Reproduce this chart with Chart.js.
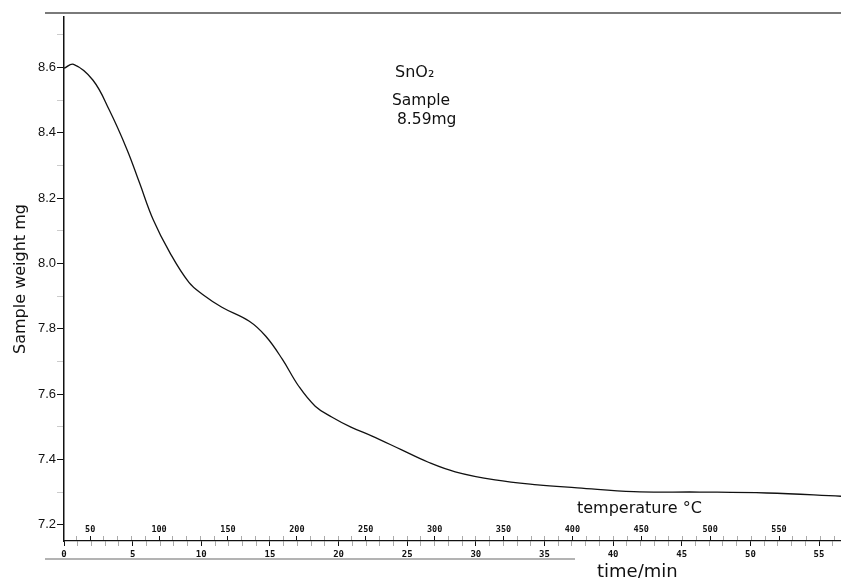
<!DOCTYPE html>
<html>
<head>
<meta charset="utf-8">
<title>SnO2 sample weight</title>
<script src="https://cdn.jsdelivr.net/npm/chart.js@4.4.1/dist/chart.umd.min.js"></script>
<style>
  body { margin: 0; background: #fff; }
  canvas { display: block; }
</style>
</head>
<body>
<canvas id="tgChart" width="841" height="578"></canvas>
<script>
var timeMin = [0, 0.7, 2.1, 3.3, 4.6, 5.5, 6.5, 7.7, 9.1, 10.1, 11.5, 13.5, 14.7, 15.9, 17.1, 18.3,
  19.5, 20.9, 22.4, 24.6, 26.5, 28.5, 31.4, 34.5, 37.4, 41.5, 46.3, 51.2, 56.6];
var weightMg = [8.598, 8.610, 8.562, 8.470, 8.348, 8.247, 8.134, 8.034, 7.942, 7.905, 7.866, 7.823, 7.777, 7.707, 7.624, 7.563,
  7.530, 7.499, 7.472, 7.429, 7.392, 7.362, 7.337, 7.322, 7.313, 7.301, 7.300, 7.297, 7.287];

var timeRange = [0, 56.6];
var tempRange = [31, 595];
var weightRange = [7.15, 8.755];
var noteLines = ["SnO\u2082", "Sample", "8.59mg"];

var points = timeMin.map(function (t, i) {
  return { x: t, y: weightMg[i] };
});

var data = {
  datasets: [{
    label: "Sample weight",
    data: points,
    borderColor: "#111",
    borderWidth: 1.3,
    pointRadius: 0,
    tension: 0.4,
    fill: false
  }]
};

var tickFont = { family: "'DejaVu Sans Mono'", size: 9, weight: "bold" };

// free text and the sheet border lines
var paperText = {
  id: "paperText",
  afterDraw: function (chart) {
    var ctx = chart.ctx;
    var area = chart.chartArea;
    ctx.save();
    ctx.strokeStyle = "#7a7a7a";
    ctx.lineWidth = 2;
    ctx.beginPath();
    ctx.moveTo(45, area.top - 4);
    ctx.lineTo(chart.width, area.top - 4);
    ctx.stroke();
    ctx.strokeStyle = "#9a9a9a";
    ctx.lineWidth = 1.5;
    ctx.beginPath();
    ctx.moveTo(45, area.bottom + 18);
    ctx.lineTo(575, area.bottom + 18);
    ctx.stroke();

    ctx.fillStyle = "#111";
    ctx.textBaseline = "alphabetic";
    ctx.font = "16px 'DejaVu Sans'";
    ctx.fillText(noteLines[0], 395, 77);
    ctx.font = "15.5px 'DejaVu Sans'";
    ctx.fillText(noteLines[1], 392, 105);
    ctx.fillText(noteLines[2], 397, 124);
    ctx.font = "16px 'DejaVu Sans'";
    ctx.fillText("temperature \u00b0C", 577, 513);
    ctx.font = "18px 'DejaVu Sans'";
    ctx.fillText("time/min", 597, 577);
    ctx.restore();
  }
};

var config = {
  type: "line",
  data: data,
  plugins: [paperText],
  options: {
    responsive: false,
    animation: false,
    layout: { padding: { top: 17, right: 0, left: 0, bottom: 0 } },
    plugins: {
      legend: { display: false },
      tooltip: { enabled: false }
    },
    scales: {
      x: {
        type: "linear",
        position: "bottom",
        min: timeRange[0],
        max: timeRange[1],
        afterFit: function (scale) { scale.height = 37; },
        border: { color: "#111", width: 1.3 },
        grid: {
          drawOnChartArea: false,
          tickLength: 5,
          tickColor: function (c) { return c.tick && c.tick.value % 5 === 0 ? "#111" : "#aaa"; }
        },
        ticks: {
          stepSize: 1,
          includeBounds: false,
          autoSkip: false,
          maxRotation: 0,
          padding: 3,
          color: "#111",
          font: tickFont,
          callback: function (v) { return v % 5 === 0 ? String(v) : ""; }
        }
      },
      temp: {
        type: "linear",
        axis: "x",
        position: { y: weightRange[0] },
        min: tempRange[0],
        max: tempRange[1],
        border: { display: false },
        grid: {
          drawOnChartArea: false,
          tickLength: -5,
          tickColor: function (c) { return c.tick && c.tick.value % 50 === 0 ? "#111" : "#aaa"; }
        },
        ticks: {
          stepSize: 10,
          includeBounds: false,
          autoSkip: false,
          maxRotation: 0,
          padding: -11,
          color: "#111",
          font: { family: "'DejaVu Sans Mono'", size: 8.5, weight: "bold" },
          callback: function (v) { return v % 50 === 0 ? String(v) : ""; }
        }
      },
      y: {
        type: "linear",
        min: weightRange[0],
        max: weightRange[1],
        afterFit: function (scale) { scale.width = 64; },
        border: { color: "#111", width: 1.5 },
        grid: {
          drawOnChartArea: false,
          tickLength: 7,
          tickColor: function (c) {
            return c.tick && Math.round(c.tick.value * 10) % 2 === 0 ? "#111" : "#ccc";
          }
        },
        ticks: {
          stepSize: 0.1,
          includeBounds: false,
          autoSkip: false,
          padding: 1,
          color: "#111",
          font: { family: "'Liberation Sans'", size: 13 },
          callback: function (v) {
            return Math.round(v * 10) % 2 === 0 ? v.toFixed(1) : "";
          }
        },
        title: {
          display: true,
          text: "Sample weight mg",
          color: "#111",
          font: { family: "'DejaVu Sans'", size: 16 },
          padding: { top: 11, bottom: 0 }
        }
      }
    }
  }
};

var tgChart = new Chart(document.getElementById("tgChart"), config);
</script>
</body>
</html>
